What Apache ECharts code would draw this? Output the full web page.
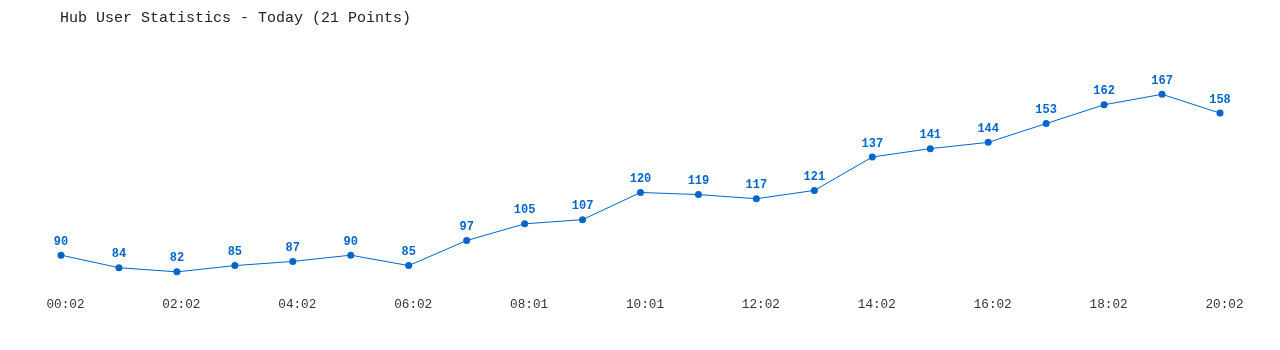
<!DOCTYPE html>
<html>
<head>
<meta charset="utf-8">
<script src="https://cdn.jsdelivr.net/npm/echarts@6/dist/echarts.min.js"></script>
<style>
html,body{margin:0;padding:0;background:#fff;}
#chart{width:1280px;height:350px;}
</style>
</head>
<body>
<div id="chart"></div>
<script>
const titleText = 'Hub User Statistics - Today (21 Points)';
const times = ['00:02','01:02','02:02','03:02','04:02','05:02','06:02','07:02','08:01','09:01','10:01','11:01','12:02','13:02','14:02','15:02','16:02','17:02','18:02','19:02','20:02'];
const users = [90,84,82,85,87,90,85,97,105,107,120,119,117,121,137,141,144,153,162,167,158];

const chart = echarts.init(document.getElementById('chart'));
chart.setOption({
  animation: false,
  backgroundColor: '#fff',
  title: {
    text: titleText,
    left: 55, top: 6,
    textStyle: {fontFamily: 'Liberation Mono', fontSize: 15, fontWeight: 'normal', color: '#222'}
  },
  grid: {left: 61, right: 60, top: 42, bottom: 61},
  xAxis: {
    type: 'category',
    data: times,
    boundaryGap: false,
    axisLine: {show: false},
    axisTick: {show: false},
    axisLabel: {interval: 1, margin: 9, padding: [0, 0, 0, 9], fontFamily: 'Liberation Mono', fontSize: 12.7, color: '#333'}
  },
  yAxis: {
    type: 'value',
    min: 73.8, max: 192.05,
    show: false,
    splitLine: {show: false}
  },
  series: [{
    type: 'line',
    data: users,
    symbol: 'circle',
    symbolSize: 7,
    itemStyle: {color: '#0066cc'},
    lineStyle: {color: '#0066cc', width: 1},
    label: {
      show: true, position: 'top', distance: 4,
      fontFamily: 'Liberation Mono', fontSize: 12, fontWeight: 'bold', color: '#0066cc'
    }
  }]
});
</script>
</body>
</html>
